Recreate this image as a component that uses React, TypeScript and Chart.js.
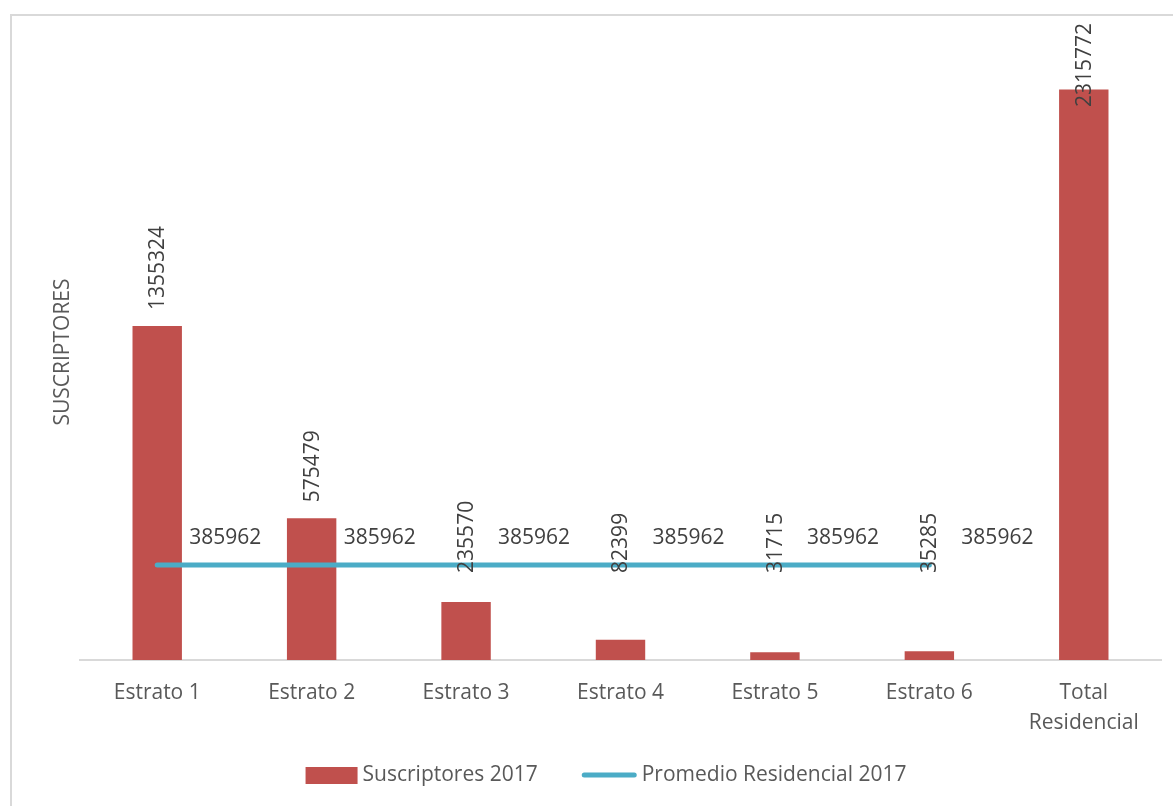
import React, { useEffect, useRef } from "react";
import { Chart, registerables } from "chart.js";

Chart.register(...registerables);

const categories: (string | string[])[] = [
  "Estrato 1",
  "Estrato 2",
  "Estrato 3",
  "Estrato 4",
  "Estrato 5",
  "Estrato 6",
  ["Total", "Residencial"],
];
const suscriptores2017: number[] = [1355324, 575479, 235570, 82399, 31715, 35285, 2315772];
const promedioResidencial2017: (number | null)[] = [385962, 385962, 385962, 385962, 385962, 385962, null];
const seriesNames: string[] = ["Suscriptores 2017", "Promedio Residencial 2017"];
const yAxisTitle = "SUSCRIPTORES";

const FONT = "'Open Sans', 'Noto Sans', sans-serif";
const FS = 21;
const BAR_COLOR = "#C0504D";
const LINE_COLOR = "#4BACC6";

const customPlugin = {
  id: "custom",
  beforeDraw(chart: any) {
    const ctx = chart.ctx;
    ctx.save();
    ctx.fillStyle = "#ffffff";
    ctx.fillRect(0, 0, chart.width, chart.height);
    ctx.strokeStyle = "#D9D9D9";
    ctx.lineWidth = 2;
    ctx.beginPath();
    ctx.moveTo(11, chart.height + 5);
    ctx.lineTo(11, 15);
    ctx.lineTo(chart.width + 5, 15);
    ctx.stroke();
    ctx.restore();
  },
  afterDatasetsDraw(chart: any) {
    const ctx = chart.ctx;
    const area = chart.chartArea;
    ctx.save();
    ctx.font = `${FS}px ${FONT}`;
    ctx.fillStyle = "#404040";
    const barMeta = chart.getDatasetMeta(0);
    const lineMeta = chart.getDatasetMeta(1);
    const lineY = lineMeta.data.length ? lineMeta.data[0].y : area.bottom;
    barMeta.data.forEach((el: any, i: number) => {
      const txt = String(suscriptores2017[i]);
      const w = ctx.measureText(txt).width;
      let bottom = Math.min(el.y - 16, lineY + 8);
      bottom = Math.max(bottom, 23 + w);
      ctx.save();
      ctx.translate(el.x, bottom);
      ctx.rotate(-Math.PI / 2);
      ctx.textAlign = "left";
      ctx.textBaseline = "middle";
      ctx.fillText(txt, 0, 1);
      ctx.restore();
    });
    lineMeta.data.forEach((el: any, i: number) => {
      const v = promedioResidencial2017[i];
      if (v === null || v === undefined) return;
      ctx.textAlign = "left";
      ctx.textBaseline = "middle";
      ctx.fillText(String(v), el.x + 32, el.y - 27);
    });
    ctx.restore();
  },
  afterDraw(chart: any) {
    const ctx = chart.ctx;
    const area = chart.chartArea;
    ctx.save();
    ctx.font = `${FS}px ${FONT}`;
    ctx.fillStyle = "#595959";
    ctx.translate(63, (area.top + area.bottom) / 2);
    ctx.rotate(-Math.PI / 2);
    ctx.textAlign = "center";
    ctx.textBaseline = "middle";
    ctx.fillText(yAxisTitle, 0, 0);
    ctx.restore();

    ctx.save();
    ctx.font = `${FS}px ${FONT}`;
    ctx.fillStyle = "#595959";
    ctx.textBaseline = "middle";
    ctx.textAlign = "left";
    const boxW = 52;
    const lineW = 55;
    const gapTxt = 5;
    const gapItems = 44;
    const t0 = ctx.measureText(seriesNames[0]).width;
    const t1 = ctx.measureText(seriesNames[1]).width;
    const total = boxW + gapTxt + t0 + gapItems + lineW + gapTxt + t1;
    const cx = 606;
    const y = 775;
    let x = cx - total / 2;
    ctx.fillStyle = BAR_COLOR;
    ctx.fillRect(x, y - 8, boxW, 17);
    x += boxW + gapTxt;
    ctx.fillStyle = "#595959";
    ctx.fillText(seriesNames[0], x, y);
    x += t0 + gapItems;
    ctx.strokeStyle = LINE_COLOR;
    ctx.lineWidth = 5;
    ctx.lineCap = "round";
    ctx.beginPath();
    ctx.moveTo(x + 2.5, y);
    ctx.lineTo(x + lineW - 2.5, y);
    ctx.stroke();
    x += lineW + gapTxt;
    ctx.fillText(seriesNames[1], x, y);
    ctx.restore();
  },
};

export default function App() {
  const ref = useRef<HTMLCanvasElement | null>(null);
  useEffect(() => {
    if (!ref.current) return;
    const chart = new Chart(ref.current, {
      type: "bar",
      data: {
        labels: categories,
        datasets: [
          {
            type: "bar",
            label: seriesNames[0],
            data: suscriptores2017,
            backgroundColor: BAR_COLOR,
            borderWidth: 0,
            categoryPercentage: 1,
            barPercentage: 0.32,
            order: 2,
          },
          {
            type: "line",
            label: seriesNames[1],
            data: promedioResidencial2017,
            borderColor: LINE_COLOR,
            backgroundColor: LINE_COLOR,
            borderWidth: 5,
            borderCapStyle: "round",
            pointRadius: 0,
            pointHoverRadius: 0,
            spanGaps: false,
            order: 1,
          },
        ],
      } as any,
      options: {
        animation: false,
        responsive: false,
        layout: { padding: { left: 80, right: 12, top: 44, bottom: 0 } },
        plugins: {
          legend: { display: false },
          tooltip: { enabled: false },
        },
        scales: {
          x: {
            grid: { display: false, drawTicks: false },
            border: { display: true, color: "#D9D9D9", width: 2 },
            ticks: {
              color: "#595959",
              font: { family: FONT, size: FS, lineHeight: 1.43 },
              padding: 18,
              maxRotation: 0,
              autoSkip: false,
            },
            afterFit: (scale: any) => {
              scale.height = 146;
            },
          },
          y: {
            display: false,
            min: 0,
            max: 2500000,
          },
        },
      } as any,
      plugins: [customPlugin],
    });
    return () => chart.destroy();
  }, []);
  return (
    <div style={{ position: "fixed", left: 0, top: 0, width: 1173, height: 806 }}>
      <canvas ref={ref} width={1173} height={806} style={{ display: "block" }} />
    </div>
  );
}
